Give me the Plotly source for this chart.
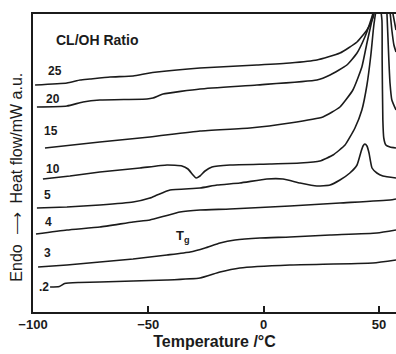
import plotly.graph_objects as go

# Temperature (deg C) and heat flow (a.u.)
t25 = [-99.1, -85.3, -79.6, -75.3, -66.6, -56.6, -50.6, -46.2, -27.6, -2.9, 11.4, 23.1, 33.1, 40.5, 44.8, 47.4, 48.7, 52.6, 56.1, 57.4]
h25 = [22.7, 22.9, 23.2, 23.3, 23.5, 23.6, 23.85, 24.0, 24.4, 24.7, 24.9, 25.2, 25.9, 27.0, 28.2, 29.4, 30.6, 34.2, 29.8, 28.2]

t20 = [-98.3, -85.3, -78.3, -71.0, -50.6, -48.0, -43.6, -27.6, -2.9, 23.1, 28.8, 36.1, 40.5, 43.9, 46.1, 47.8, 51.3, 54.8, 55.6, 56.5, 57.4]
h20 = [20.5, 20.6, 21.0, 21.2, 21.3, 21.4, 21.8, 22.3, 22.7, 23.2, 23.7, 24.7, 25.9, 27.5, 28.9, 30.2, 34.2, 30.0, 28.2, 26.7, 26.0]

t15 = [-94.8, -71.0, -49.3, -27.6, -5.9, 11.4, 25.7, 33.1, 38.7, 42.6, 44.8, 47.0, 48.7, 50.9, 53.0, 53.5, 54.3, 54.8, 55.6, 57.4]
h15 = [16.4, 17.0, 17.5, 18.1, 18.4, 18.9, 19.5, 20.5, 22.2, 24.5, 26.9, 29.2, 31.2, 34.2, 31.2, 29.7, 25.2, 22.9, 21.2, 20.2]

t10 = [-95.7, -84.0, -71.0, -53.6, -41.9, -35.4, -32.8, -30.6, -29.3, -27.6, -25.4, -22.4, -14.6, 2.7, 15.8, 24.4, 30.1, 35.3, 39.6, 42.6, 44.8, 46.5, 47.8, 49.1, 50.4, 51.3, 51.4, 51.7, 52.1, 53.0, 54.8, 57.4]
h10 = [13.3, 13.6, 14.0, 14.4, 14.7, 14.6, 14.3, 13.7, 13.4, 13.6, 14.1, 14.5, 14.7, 14.8, 14.9, 15.1, 15.7, 16.7, 18.4, 20.2, 22.7, 25.7, 28.7, 30.4, 30.4, 29.2, 25.2, 19.2, 17.4, 16.7, 16.5, 16.4]

t5 = [-98.3, -85.3, -71.0, -56.6, -49.3, -46.2, -40.6, -27.6, -20.2, -10.3, 1.4, 8.4, 15.8, 23.1, 28.8, 33.1, 37.4, 40.5, 42.2, 43.1, 43.9, 44.8, 45.7, 47.0, 49.1, 51.7, 57.4]
h5 = [10.4, 10.5, 10.7, 11.0, 11.4, 11.7, 12.2, 12.4, 12.7, 12.9, 13.3, 13.3, 12.9, 12.6, 12.7, 13.2, 13.9, 14.7, 16.0, 16.6, 16.8, 16.6, 15.9, 14.4, 13.9, 13.6, 13.4]

t4 = [-98.7, -85.3, -71.0, -56.6, -49.3, -42.8, -36.3, -27.6, -14.6, 11.4, 33.1, 54.8, 57.4]
h4 = [7.8, 8.2, 8.5, 9.0, 9.2, 9.6, 10.0, 10.2, 10.3, 10.6, 10.9, 11.2, 11.3]

t3 = [-97.8, -85.3, -71.0, -56.6, -41.9, -31.9, -25.4, -18.9, -12.4, -1.6, 11.4, 28.8, 49.1, 57.4]
h3 = [4.5, 4.7, 5.0, 5.3, 5.7, 6.0, 6.4, 6.9, 7.2, 7.4, 7.5, 7.7, 7.9, 8.2]

t2 = [-92.6, -88.6, -86.3, -80.0, -71.0, -56.6, -41.9, -27.6, -18.9, -10.3, 11.4, 47.4, 57.4]
h2 = [2.5, 2.55, 2.85, 2.95, 3.0, 3.1, 3.2, 3.4, 4.0, 4.4, 4.7, 4.9, 5.2]

ratios = ["25", "20", "15", "10", "5", "4", "3", ".2"]
temps = [t25, t20, t15, t10, t5, t4, t3, t2]
flows = [h25, h20, h15, h10, h5, h4, h3, h2]
label_t = [-90.6, -91.5, -92.4, -91.5, -93.7, -93.1, -93.5, -95.2]
label_h = [24.1, 21.3, 18.1, 14.3, 11.7, 9.0, 5.9, 2.5]

tick_vals = [-100, -50, 0, 50]
tick_text = ["\u2212100", "\u221250", "0", "50"]

FONT = "Liberation Sans, Arial, Helvetica, sans-serif"
INK = "#1b1b1b"

fig = go.Figure()
for r, tx, hy in zip(ratios, temps, flows):
    fig.add_trace(go.Scatter(x=tx, y=hy, mode="lines", name=r,
                             line=dict(color=INK, width=1.6, shape="spline", smoothing=0.45),
                             showlegend=False, hoverinfo="skip"))

for r, lx, ly in zip(ratios, label_t, label_h):
    fig.add_annotation(x=lx, y=ly, text=r, showarrow=False,
                       font=dict(family=FONT, size=12, color=INK, weight="bold"))

fig.add_annotation(x=-72.3, y=27.2, text="CL/OH Ratio", showarrow=False,
                   font=dict(family=FONT, size=14, color=INK, weight="bold"))
fig.add_annotation(x=-35.0, y=7.6, text="T<sub>g</sub>", showarrow=False,
                   font=dict(family=FONT, size=13, color=INK, weight="bold"))

fig.add_annotation(xref="paper", yref="paper", x=-0.044, y=0.451,
                   xanchor="center", yanchor="middle",
                   text="Endo  \u27f6  Heat flow/mW a.u.", textangle=-90, showarrow=False,
                   font=dict(family=FONT, size=16, color=INK))

fig.update_xaxes(range=[-100, 57.4], tickvals=tick_vals, ticktext=tick_text,
                 ticks="inside", ticklen=6, tickwidth=1.5, tickcolor=INK,
                 showline=True, linecolor=INK, linewidth=1.6, mirror=True,
                 showgrid=False, zeroline=False,
                 tickfont=dict(family=FONT, size=13, color=INK, weight="bold"),
                 title=dict(text="Temperature /\u00b0C", standoff=4,
                            font=dict(family=FONT, size=16, color=INK, weight="bold")))
fig.update_yaxes(range=[0, 29.8], showticklabels=False, ticks="",
                 showline=True, linecolor=INK, linewidth=1.6,
                 showgrid=False, zeroline=False)

fig.update_layout(width=396, height=354, margin=dict(l=33, r=0, t=14, b=42),
                  paper_bgcolor="white", plot_bgcolor="white")

fig.write_html("out.html")
